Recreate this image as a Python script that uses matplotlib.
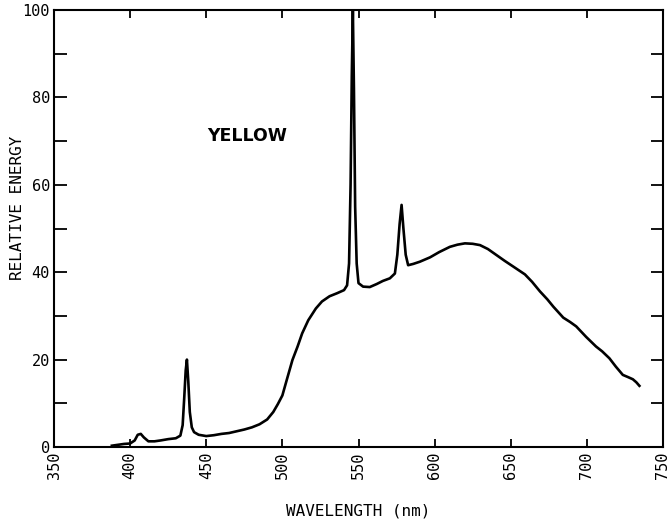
import numpy as np
import matplotlib
matplotlib.use("Agg")
import matplotlib.pyplot as plt
from matplotlib.ticker import MultipleLocator

# spectral power distribution (nm, relative energy)
wavelength = [388, 392, 396, 400, 403, 405, 407, 409, 412, 416, 420, 425, 430, 433,
              434.5, 435.5, 436.5, 437.3, 438.2, 439.2, 440.5, 442, 445, 450, 455, 460,
              465, 470, 475, 480, 485, 490, 494, 497, 500, 503, 506.6, 510, 513, 517,
              522, 526, 531, 536, 540.5, 542.5, 543.8, 544.8, 545.6, 546.3, 547.0,
              547.8, 548.8, 550, 553, 557.4, 562, 566, 570.6, 573.9, 575.5, 577, 578.3,
              579.5, 581, 582.6, 586, 590.3, 597, 603, 610, 615, 619.9, 625, 629.8,
              635, 640.7, 646, 651.6, 659.3, 664, 669.2, 674, 678, 684.5, 689, 693,
              699.5, 706, 710, 714.8, 719, 723.6, 727, 730.2, 732.5, 734.5]
energy = [0.3, 0.5, 0.7, 0.8, 1.5, 2.8, 3.0, 2.2, 1.3, 1.3, 1.5, 1.8, 2.0, 2.6,
          5.0, 11.0, 17.5, 20.0, 15.0, 8.0, 4.5, 3.4, 2.8, 2.5, 2.7, 3.0,
          3.2, 3.6, 4.0, 4.5, 5.2, 6.3, 8.0, 9.8, 11.8, 15.5, 19.9, 23.0, 26.0, 29.0,
          31.7, 33.3, 34.5, 35.2, 35.9, 37.0, 42.0, 60.0, 85.0, 100.0, 82.0,
          55.0, 42.0, 37.5, 36.7, 36.6, 37.3, 38.0, 38.6, 39.7, 44.0, 51.0, 55.4,
          50.0, 44.0, 41.6, 41.9, 42.4, 43.4, 44.6, 45.8, 46.3, 46.6, 46.5, 46.2,
          45.3, 43.9, 42.6, 41.3, 39.5, 37.8, 35.6, 33.8, 32.1, 29.6, 28.6, 27.6,
          25.2, 23.0, 21.9, 20.3, 18.4, 16.5, 16.0, 15.5, 14.8, 14.0]

x_ticks = [350, 400, 450, 500, 550, 600, 650, 700, 750]
y_ticks = [0, 20, 40, 60, 80, 100]

mono = "DejaVu Sans Mono"

fig = plt.figure(figsize=(6.72, 5.25), dpi=100)
ax = fig.add_axes([54 / 672, 1 - 447 / 525, 609 / 672, 437 / 525])

ax.plot(wavelength, energy, color="black", lw=1.9, solid_joinstyle="round")

ax.set_xlim(350, 750)
ax.set_ylim(0, 100)

ax.set_xticks(x_ticks)
ax.set_xticklabels([str(v) for v in x_ticks], rotation=90, va="top",
                   family=mono, fontsize=11)
ax.set_yticks(y_ticks)
ax.set_yticklabels([str(v) for v in y_ticks], family=mono, fontsize=11)
ax.yaxis.set_minor_locator(MultipleLocator(10))

ax.tick_params(axis="x", which="major", direction="in", length=6, width=1.3,
               top=True, pad=3)
ax.tick_params(axis="y", which="both", direction="in", length=9, width=1.3,
               right=True, pad=3)

for s in ax.spines.values():
    s.set_linewidth(1.5)

ax.set_xlabel("WAVELENGTH (nm)", family=mono, fontsize=11.5, labelpad=18)
ax.set_ylabel("RELATIVE ENERGY", family=mono, fontsize=11.5)
ax.yaxis.set_label_coords(-0.047, 0.547)

ax.text(477, 71.2, "YELLOW", family="DejaVu Sans", fontweight="bold",
        fontsize=12.5, ha="center", va="center")

fig.savefig("out.png", dpi=100)
